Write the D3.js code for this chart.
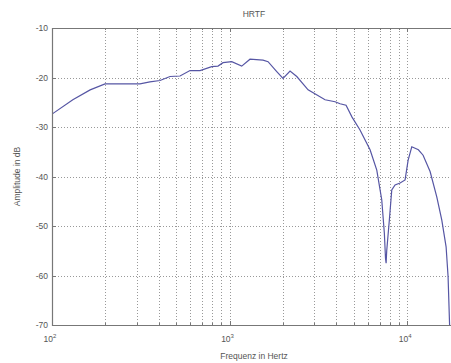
<!DOCTYPE html>
<html>
<head>
<meta charset="utf-8">
<script src="https://cdn.jsdelivr.net/npm/d3@7"></script>
<style>
  body { margin: 0; background: #fff; }
  text { font-family: "Liberation Sans", Arial, sans-serif; fill: #555; }
</style>
</head>
<body>
<div id="chart"></div>
<script>
// HRTF magnitude
const freqs = [100, 131, 164, 199, 313, 356, 406, 462, 526, 599, 682, 794, 861, 919, 1029, 1171,
  1304, 1544, 1648, 1845, 2001, 2192, 2392, 2770, 3452, 3930, 4194, 4532, 4898, 5432, 6188,
  6751, 7200, 7450, 7560, 7620, 7680, 7946, 8200, 8556, 9133, 9745, 10140, 10630, 11580, 12310,
  13480, 14700, 15690, 16590, 17020, 17360];
const amps = [-27.4, -24.5, -22.5, -21.3, -21.3, -20.9, -20.6, -19.8, -19.7, -18.6, -18.6, -17.8,
  -17.7, -17.0, -16.8, -17.7, -16.3, -16.5, -16.8, -18.8, -20.2, -18.7, -19.8, -22.5, -24.5,
  -24.9, -25.3, -25.6, -28.0, -30.6, -34.6, -38.7, -44.7, -51.5, -56.5, -57.5, -55.0, -48.8,
  -42.7, -41.7, -41.3, -40.7, -36.7, -34.0, -34.6, -35.7, -39.0, -44.1, -48.8, -54.2, -60.2, -70];

const yTicks = [-10, -20, -30, -40, -50, -60, -70];
const xMajor = [100, 1000, 10000];
const xMinor = [200, 300, 400, 500, 600, 700, 800, 900,
  2000, 3000, 4000, 5000, 6000, 7000, 8000, 9000];

const width = 451, height = 363;
const pLeft = 52, pTop = 28, pRight = 455, pBottom = 325;

const svg = d3.select('#chart').append('svg')
  .attr('width', width)
  .attr('height', height);

const x = d3.scaleLog().domain([100, 18620]).range([pLeft, pRight]);
const y = d3.scaleLinear().domain([-70, -10]).range([pBottom, pTop]);

svg.append('clipPath').attr('id', 'plot')
  .append('rect')
  .attr('x', pLeft).attr('y', pTop)
  .attr('width', pRight - pLeft).attr('height', pBottom - pTop);

// grid
const grid = svg.append('g')
  .attr('stroke', '#999')
  .attr('stroke-width', 1)
  .attr('stroke-dasharray', '1,2');

grid.selectAll('.vg')
  .data(xMinor.concat(xMajor.slice(1)))
  .enter().append('line')
  .attr('x1', d => Math.round(x(d)) + 0.5)
  .attr('x2', d => Math.round(x(d)) + 0.5)
  .attr('y1', pTop)
  .attr('y2', pBottom);

grid.selectAll('.hg')
  .data(yTicks.slice(1, -1))
  .enter().append('line')
  .attr('x1', pLeft)
  .attr('x2', pRight)
  .attr('y1', d => Math.round(y(d)) + 0.5)
  .attr('y2', d => Math.round(y(d)) + 0.5);

// curve
const line = d3.line()
  .x((d, i) => x(freqs[i]))
  .y(d => y(d));

svg.append('path')
  .attr('clip-path', 'url(#plot)')
  .attr('d', line(amps))
  .attr('fill', 'none')
  .attr('stroke', '#5656a4')
  .attr('stroke-width', 1.2);

// box and ticks
const axisColor = '#777';
svg.append('path')
  .attr('d', `M${pRight},${pTop + 0.5}H${pLeft + 0.5}V${pBottom + 0.5}H${pRight}`)
  .attr('fill', 'none')
  .attr('stroke', axisColor)
  .attr('stroke-width', 1.2);

const ticks = svg.append('g').attr('stroke', axisColor);
ticks.selectAll('.yt')
  .data(yTicks)
  .enter().append('line')
  .attr('x1', pLeft).attr('x2', pLeft + 4)
  .attr('y1', d => Math.round(y(d)) + 0.5)
  .attr('y2', d => Math.round(y(d)) + 0.5);

ticks.selectAll('.xt')
  .data(xMajor.concat(xMinor))
  .enter().append('line')
  .attr('x1', d => Math.round(x(d)) + 0.5)
  .attr('x2', d => Math.round(x(d)) + 0.5)
  .attr('y1', pBottom)
  .attr('y2', d => pBottom - (xMajor.includes(d) ? 4 : 2));

ticks.selectAll('.xtt')
  .data(xMajor.concat(xMinor))
  .enter().append('line')
  .attr('x1', d => Math.round(x(d)) + 0.5)
  .attr('x2', d => Math.round(x(d)) + 0.5)
  .attr('y1', pTop)
  .attr('y2', d => pTop + (xMajor.includes(d) ? 4 : 2));

// labels
svg.selectAll('.yl')
  .data(yTicks)
  .enter().append('text')
  .attr('x', pLeft - 4)
  .attr('y', d => y(d) + 3)
  .attr('text-anchor', 'end')
  .attr('font-size', 8.5)
  .text(d => d);

const xl = svg.selectAll('.xl')
  .data(xMajor)
  .enter().append('text')
  .attr('x', d => x(d) - 2)
  .attr('y', 342)
  .attr('text-anchor', 'middle')
  .attr('font-size', 8.5);
xl.append('tspan').text('10');
xl.append('tspan')
  .attr('dy', -4)
  .attr('font-size', 6)
  .text(d => Math.round(Math.log10(d)));

svg.append('text')
  .attr('x', 254)
  .attr('y', 17)
  .attr('text-anchor', 'middle')
  .attr('font-size', 8.5)
  .text('HRTF');

svg.append('text')
  .attr('x', 254)
  .attr('y', 359)
  .attr('text-anchor', 'middle')
  .attr('font-size', 8.5)
  .text('Frequenz in Hertz');

svg.append('text')
  .attr('transform', `translate(20,${(pTop + pBottom) / 2}) rotate(-90)`)
  .attr('text-anchor', 'middle')
  .attr('font-size', 8.5)
  .text('Amplitude in dB');
</script>
</body>
</html>
